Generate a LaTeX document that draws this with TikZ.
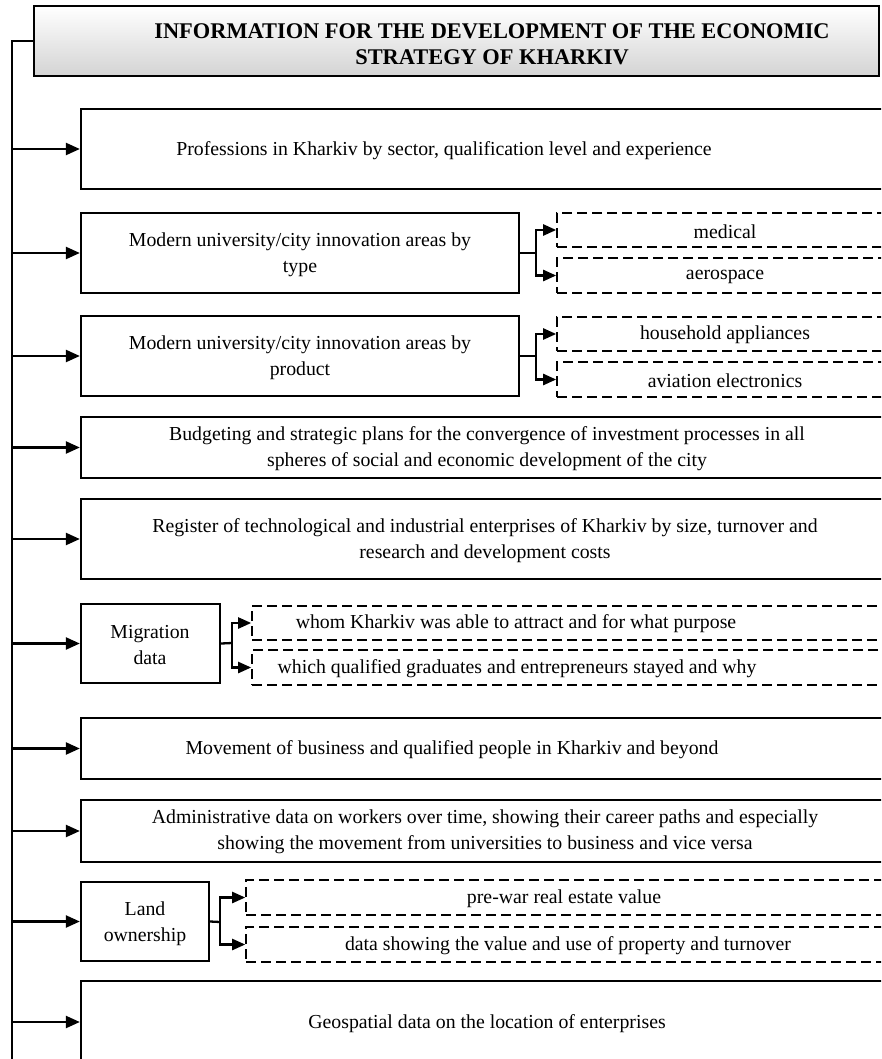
\documentclass[tikz,border=0pt]{standalone}
\usepackage{fontspec}
\setmainfont{Liberation Serif}
\usetikzlibrary{fit,arrows.meta}
\begin{document}
\begin{tikzpicture}[x=1pt,y=-1pt,
  box/.style={draw=black,line width=2.3pt,inner sep=0pt},
  dbox/.style={draw=black,line width=1.6pt,dash pattern=on 10pt off 5pt,inner sep=0pt},
  titlebox/.style={draw=black,line width=2.3pt,inner sep=0pt,top color=white,bottom color=black!17},
  txt/.style={inner sep=0pt,align=center,font=\fontsize{19.8}{26}\selectfont},
  ttxt/.style={inner sep=0pt,align=center,font=\fontsize{22.4}{26}\selectfont\bfseries},
  conn/.style={line width=2.3pt},
  arr/.style={line width=2.3pt,-{Triangle[length=14pt,width=12pt]}},
  sarr/.style={line width=2.3pt,-{Triangle[length=13pt,width=11pt]}}]
\useasboundingbox (0,0) rectangle (881,1059);
\clip (0,0) rectangle (881,1059);

% title
\node[titlebox, fit={(34,6) (879,76)}] (title) {};
\node[ttxt] (ttitle) at (492,44) {INFORMATION FOR THE DEVELOPMENT OF THE ECONOMIC\\STRATEGY OF KHARKIV};

% trunk
\coordinate (trunk) at (12,41);
\coordinate (trunkend) at (12,1080);
\draw[conn] (title.west) -- (trunk) -- (trunkend);

% main boxes
\node[box, fit={(81,109) (900,189)}] (b1) {};
\node[txt] (t1) at (444,151) {Professions in Kharkiv by sector, qualification level and experience};

\node[box, fit={(81,213) (519,293)}] (b2) {};
\node[txt] (t2) at (300,255) {Modern university/city innovation areas by\\type};

\node[box, fit={(81,316) (519,396)}] (b3) {};
\node[txt] (t3) at (300,358) {Modern university/city innovation areas by\\product};

\node[box, fit={(81,417) (900,478)}] (b4) {};
\node[txt] (t4) at (487,449) {Budgeting and strategic plans for the convergence of investment processes in all\\spheres of social and economic development of the city};

\node[box, fit={(81,499) (900,579)}] (b5) {};
\node[txt] (t5) at (485,541) {Register of technological and industrial enterprises of Kharkiv by size, turnover and\\research and development costs};

\node[box, fit={(81,604) (220,683)}] (b6) {};
\node[txt] (t6) at (150,645) {Migration\\data};

\node[box, fit={(81,718) (900,779)}] (b7) {};
\node[txt] (t7) at (452,750) {Movement of business and qualified people in Kharkiv and beyond};

\node[box, fit={(81,800) (900,862)}] (b8) {};
\node[txt] (t8) at (485,832) {Administrative data on workers over time, showing their career paths and especially\\showing the movement from universities to business and vice versa};

\node[box, fit={(81,882) (209,961)}] (b9) {};
\node[txt] (t9) at (145,924) {Land\\ownership};

\node[box, fit={(81,981) (900,1063)}] (b10) {};
\node[txt] (t10) at (487,1024) {Geospatial data on the location of enterprises};

% dashed boxes
\node[dbox, fit={(557,213) (900,247)}] (d1) {};
\node[txt] (s1) at (725,232) {medical};
\node[dbox, fit={(557,258) (900,293)}] (d2) {};
\node[txt] (s2) at (725,277) {aerospace};
\node[dbox, fit={(557,317) (900,351)}] (d3) {};
\node[txt] (s3) at (725,335) {household appliances};
\node[dbox, fit={(557,362) (900,397)}] (d4) {};
\node[txt] (s4) at (725,381) {aviation electronics};
\node[dbox, fit={(252,606) (900,640)}] (d5) {};
\node[txt] (s5) at (516,624) {whom Kharkiv was able to attract and for what purpose};
\node[dbox, fit={(252,650) (900,685)}] (d6) {};
\node[txt] (s6) at (517,669) {which qualified graduates and entrepreneurs stayed and why};
\node[dbox, fit={(246,880) (900,915)}] (d7) {};
\node[txt] (s7) at (564,899) {pre-war real estate value};
\node[dbox, fit={(246,927) (900,962)}] (d8) {};
\node[txt] (s8) at (568,946) {data showing the value and use of property and turnover};

% trunk arrows
\foreach \b in {b1,b2,b3,b4,b5,b6,b7,b8,b9,b10}
  \draw[arr] (trunk |- \b.west) -- (\b.west);

% sub-branches
\coordinate (j2) at (536,253);
\draw[conn] (b2.east) -- (j2);
\draw[sarr] (j2) |- (d1.west);
\draw[sarr] (j2) |- (d2.west);

\coordinate (j3) at (536,356);
\draw[conn] (b3.east) -- (j3);
\draw[sarr] (j3) |- (d3.west);
\draw[sarr] (j3) |- (d4.west);

\coordinate (j6) at (232,643);
\draw[conn] (b6.east) -- (j6);
\draw[sarr] (j6) |- (d5.west);
\draw[sarr] (j6) |- (d6.west);

\coordinate (j9) at (220,922);
\draw[conn] (b9.east) -- (j9);
\draw[sarr] (j9) |- (d7.west);
\draw[sarr] (j9) |- (d8.west);
\end{tikzpicture}
\end{document}
